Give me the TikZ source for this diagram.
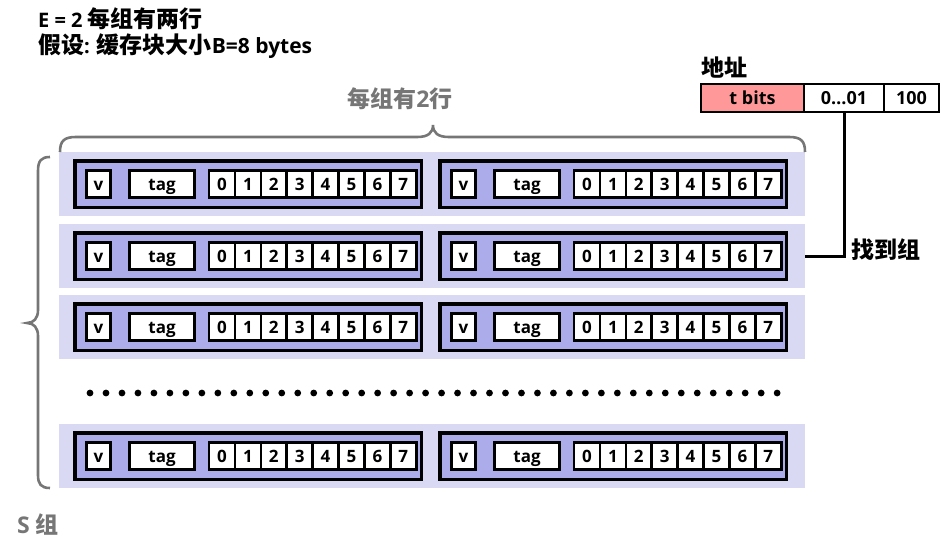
\documentclass[tikz,border=0pt]{standalone}
\usepackage{fontspec}
\setmainfont{Open Sans}
\newfontfamily\cjk{Noto Sans CJK SC}
\definecolor{setbg}{RGB}{217,217,244}
\definecolor{linebg}{RGB}{172,172,234}
\definecolor{tpink}{RGB}{255,153,153}
\definecolor{txtgray}{RGB}{118,118,118}
\tikzset{
  setbox/.style={fill=setbg, draw=none, minimum width=746pt, minimum height=64pt, inner sep=0pt},
  linebox/.style={fill=linebg, draw=black, line width=3.5pt, minimum width=346.5pt, minimum height=46.5pt, inner sep=0pt},
  cellbox/.style={fill=white, draw=black, line width=2.6pt, minimum height=27.4pt, inner sep=0pt,
    text height=12.1pt, text depth=0pt, font=\bfseries\fontsize{17}{17}\selectfont},
  addrbox/.style={draw=black, line width=1.2pt, minimum height=28pt, inner sep=0pt,
    text height=12.8pt, text depth=0pt, font=\bfseries\fontsize{18}{18}\selectfont},
  bracestyle/.style={draw=txtgray, line width=2.6pt},
  title/.style={inner sep=0pt, font=\bfseries\fontsize{20}{26}\selectfont},
  cjkbig/.style={inner sep=0pt, font=\bfseries\fontsize{23}{26}\selectfont},
}
\begin{document}
\begin{tikzpicture}[x=1pt,y=-1pt]
\useasboundingbox (0,0) rectangle (942,557);
% title
\node[title, anchor=base west] (t1) at (38,27) {E = 2 {\cjk\fontsize{23}{26}\selectfont 每组有两行}};
\node[title, anchor=base west] (t2) at (38,53) {{\cjk\fontsize{23}{26}\selectfont 假设}: {\cjk\fontsize{23}{26}\selectfont 缓存块大小}{\fontsize{21}{26}\selectfont B=8 bytes}};
% sets
\foreach \r/\y in {1/184,2/256,3/327,4/456} {
  \node[setbox] (set\r) at (432,\y) {};
  \foreach \c/\L in {1/73,2/438} {
    \node[linebox] (line-\r-\c) at (\L+175,\y) {};
    \node[cellbox, minimum width=24.4pt] (v-\r-\c) at (\L+25.5,\y) {v};
    \node[cellbox, minimum width=65.4pt] (tag-\r-\c) at (\L+89,\y) {tag};
    \foreach \k in {0,...,7} {
      \node[cellbox, minimum width=25.9pt] (d-\r-\c-\k) at (\L+136+25.9*\k+12.95,\y) {\k};
    }
  }
}
% dots
\foreach \i in {0,...,43} { \fill (90+\i*15.98,393) circle (3.4); }
% top brace
\draw[bracestyle] (60,152) .. controls (60,141) and (64,137) .. (76,137) -- (417,137)
  .. controls (428,137) and (433,133) .. (433,125)
  .. controls (433,133) and (438,137) .. (449,137) -- (789,137)
  .. controls (801,137) and (805,141) .. (805,152);
\node[cjkbig, text=txtgray] (perset) at (400,99) {{\cjk 每组有}2{\cjk 行}};
% left brace
\draw[bracestyle] (50,157) .. controls (41,157) and (38,161) .. (38,171) -- (38,310)
  .. controls (38,318) and (34,323) .. (27,323)
  .. controls (34,323) and (38,328) .. (38,336) -- (38,475)
  .. controls (38,484) and (41,488) .. (50,488);
\node[cjkbig, text=txtgray] (sgroups) at (38,524) {S {\cjk 组}};
% address
\node[cjkbig] (addrlabel) at (724,68) {\cjk 地址};
\node[addrbox, fill=tpink, minimum width=103pt] (tbits) at (752.5,98) {t bits};
\node[addrbox, fill=white, minimum width=80pt] (setidx) at (844,98) {0…01};
\node[addrbox, fill=white, minimum width=55pt] (offset) at (911.5,98) {100};
\draw[line width=3pt] (setidx.south) |- (set2.east);
\node[cjkbig, anchor=west] (found) at (851,250) {\cjk 找到组};
\end{tikzpicture}
\end{document}
